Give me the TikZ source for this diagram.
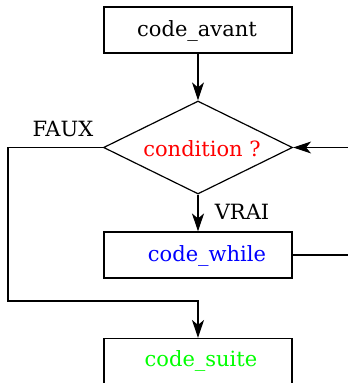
\documentclass[tikz,border=0pt]{standalone}
\usepackage{fontspec}
\setmainfont{DejaVu Serif}
\usetikzlibrary{shapes.geometric,arrows.meta}
\begin{document}
\begin{tikzpicture}[x=1bp,y=-1bp,
  every node/.style={font=\fontsize{21bp}{25bp}\selectfont},
  block/.style={draw,line width=1.1bp,minimum width=188bp,minimum height=46bp,inner sep=0pt},
  decision/.style={draw,diamond,line width=1.2bp,minimum width=189bp,minimum height=93bp,inner sep=0pt},
  flow/.style={line width=1.1bp,-{Stealth[length=18bp,width=12bp,inset=5bp]}}]
\useasboundingbox (0,0) rectangle (348,383);
% boxes and their texts
\node[block] (avant) at (198,30) {};
\node at (197,31) {code\_avant};
\node[decision] (cond) at (198,147.5) {};
\node[text=red] at (202,149) {condition ?};
\node[block] (while) at (198,255) {};
\node[text=blue] at (207,256) {code\_while};
\node[block] (suite) at (198,361.5) {};
\node[text=green] at (201,361) {code\_suite};
% branch labels
\node (faux) at (63,129) {FAUX};
\node (vrai) at (242,212) {VRAI};
% bend points of the loop and the exit branch
\coordinate (back) at (362,200);
\coordinate (left) at (8,200);
\coordinate (join) at (198,301);
% connectors
\draw[flow] (avant) -- (cond);
\draw[flow] (cond) -- (while);
\draw[flow] (while.east) -- (while.east -| back) |- (cond.east);
\draw[flow] (cond.west) -- (cond.west -| left) |- (join) -- (suite.north);
\end{tikzpicture}
\end{document}
